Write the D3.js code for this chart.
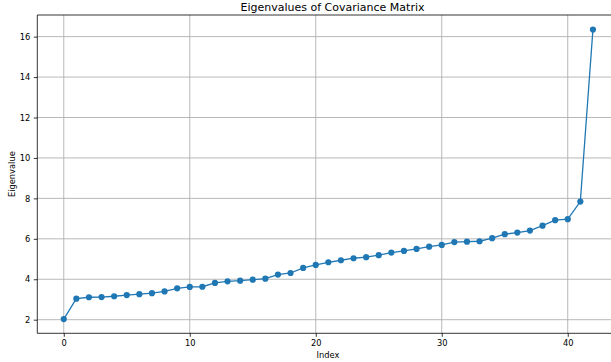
<!DOCTYPE html>
<html lang="en">

<head>
    <meta charset="UTF-8">
    <title>Eigenvalues of Covariance Matrix</title>
    <style>
        body { margin: 0; background: #fff; }
        text { font-family: "DejaVu Sans", sans-serif; fill: #000; }
    </style>
</head>

<body>
    <div id="my_dataviz"></div>
    <script src="https://d3js.org/d3.v7.min.js"></script>
    <script>

        // eigenvalues, sorted ascending
        var eigenvalues = [2.03, 3.04, 3.11, 3.12, 3.16, 3.22, 3.26, 3.31, 3.40, 3.55,
            3.62, 3.63, 3.82, 3.90, 3.93, 3.98, 4.03, 4.23, 4.31, 4.56,
            4.71, 4.84, 4.94, 5.04, 5.09, 5.19, 5.32, 5.40, 5.50, 5.61,
            5.70, 5.84, 5.86, 5.88, 6.03, 6.23, 6.31, 6.41, 6.65, 6.92,
            6.97, 7.84, 16.35];
        var xTicks = [0, 10, 20, 30, 40];
        var yTicks = [2, 4, 6, 8, 10, 12, 14, 16];

        var W = 611, H = 362;
        var margin = { top: 15, left: 37.3, bottom: 333.3, right: 619.4 };

        var svg = d3.select("#my_dataviz")
            .append("svg")
            .attr("width", W)
            .attr("height", H);

        var x = d3.scaleLinear()
            .domain([-2.1, 44.1])
            .range([margin.left, margin.right]);

        var y = d3.scaleLinear()
            .domain([1.327, 17.07])
            .range([margin.bottom, margin.top]);

        // grid
        svg.append("g").selectAll("line")
            .data(xTicks).enter().append("line")
            .attr("x1", d => x(d)).attr("x2", d => x(d))
            .attr("y1", margin.top).attr("y2", margin.bottom)
            .attr("stroke", "#b0b0b0").attr("stroke-width", 0.9);
        svg.append("g").selectAll("line")
            .data(yTicks).enter().append("line")
            .attr("x1", margin.left).attr("x2", margin.right)
            .attr("y1", d => y(d)).attr("y2", d => y(d))
            .attr("stroke", "#b0b0b0").attr("stroke-width", 0.9);

        // axes
        var xAxis = svg.append("g")
            .attr("transform", "translate(0," + margin.bottom + ")")
            .call(d3.axisBottom(x).tickValues(xTicks).tickSizeOuter(0).tickSize(3.5).tickPadding(3.5));
        var yAxis = svg.append("g")
            .attr("transform", "translate(" + margin.left + ",0)")
            .call(d3.axisLeft(y).tickValues(yTicks).tickSizeOuter(0).tickSize(3.5).tickPadding(3.5));
        [xAxis, yAxis].forEach(function (g) {
            g.select(".domain").remove();
            g.selectAll("line").attr("stroke", "#000").attr("stroke-width", 0.8);
            g.selectAll("text").style("font-family", "DejaVu Sans").style("font-size", "8.3px").attr("fill", "#222");
        });

        // spines
        svg.append("line").attr("x1", margin.left).attr("x2", margin.left)
            .attr("y1", margin.top).attr("y2", margin.bottom)
            .attr("stroke", "#000").attr("stroke-width", 0.8);
        svg.append("line").attr("x1", margin.left).attr("x2", margin.right)
            .attr("y1", margin.bottom).attr("y2", margin.bottom)
            .attr("stroke", "#000").attr("stroke-width", 0.8);
        svg.append("line").attr("x1", margin.left).attr("x2", margin.right)
            .attr("y1", margin.top).attr("y2", margin.top)
            .attr("stroke", "#000").attr("stroke-width", 0.8);

        // line + markers
        var line = d3.line()
            .x(function (d, i) { return x(i); })
            .y(function (d) { return y(d); });
        svg.append("path")
            .datum(eigenvalues)
            .attr("d", line)
            .attr("fill", "none")
            .attr("stroke", "#1f77b4")
            .attr("stroke-width", 1.3);
        svg.selectAll("circle.pt")
            .data(eigenvalues).enter().append("circle")
            .attr("class", "pt")
            .attr("cx", function (d, i) { return x(i); })
            .attr("cy", function (d) { return y(d); })
            .attr("r", 3.1)
            .attr("fill", "#1f77b4");

        // labels
        svg.append("text")
            .attr("x", 332.5).attr("y", 11)
            .attr("text-anchor", "middle")
            .style("font-size", "11px")
            .attr("fill", "#222")
            .text("Eigenvalues of Covariance Matrix");
        svg.append("text")
            .attr("x", 328).attr("y", 358)
            .attr("text-anchor", "middle")
            .style("font-size", "8.3px")
            .attr("fill", "#222")
            .text("Index");
        svg.append("text")
            .attr("transform", "translate(15," + ((margin.top + margin.bottom) / 2) + ") rotate(-90)")
            .attr("text-anchor", "middle")
            .style("font-size", "8.3px")
            .attr("fill", "#222")
            .text("Eigenvalue");

    </script>
</body>

</html>
